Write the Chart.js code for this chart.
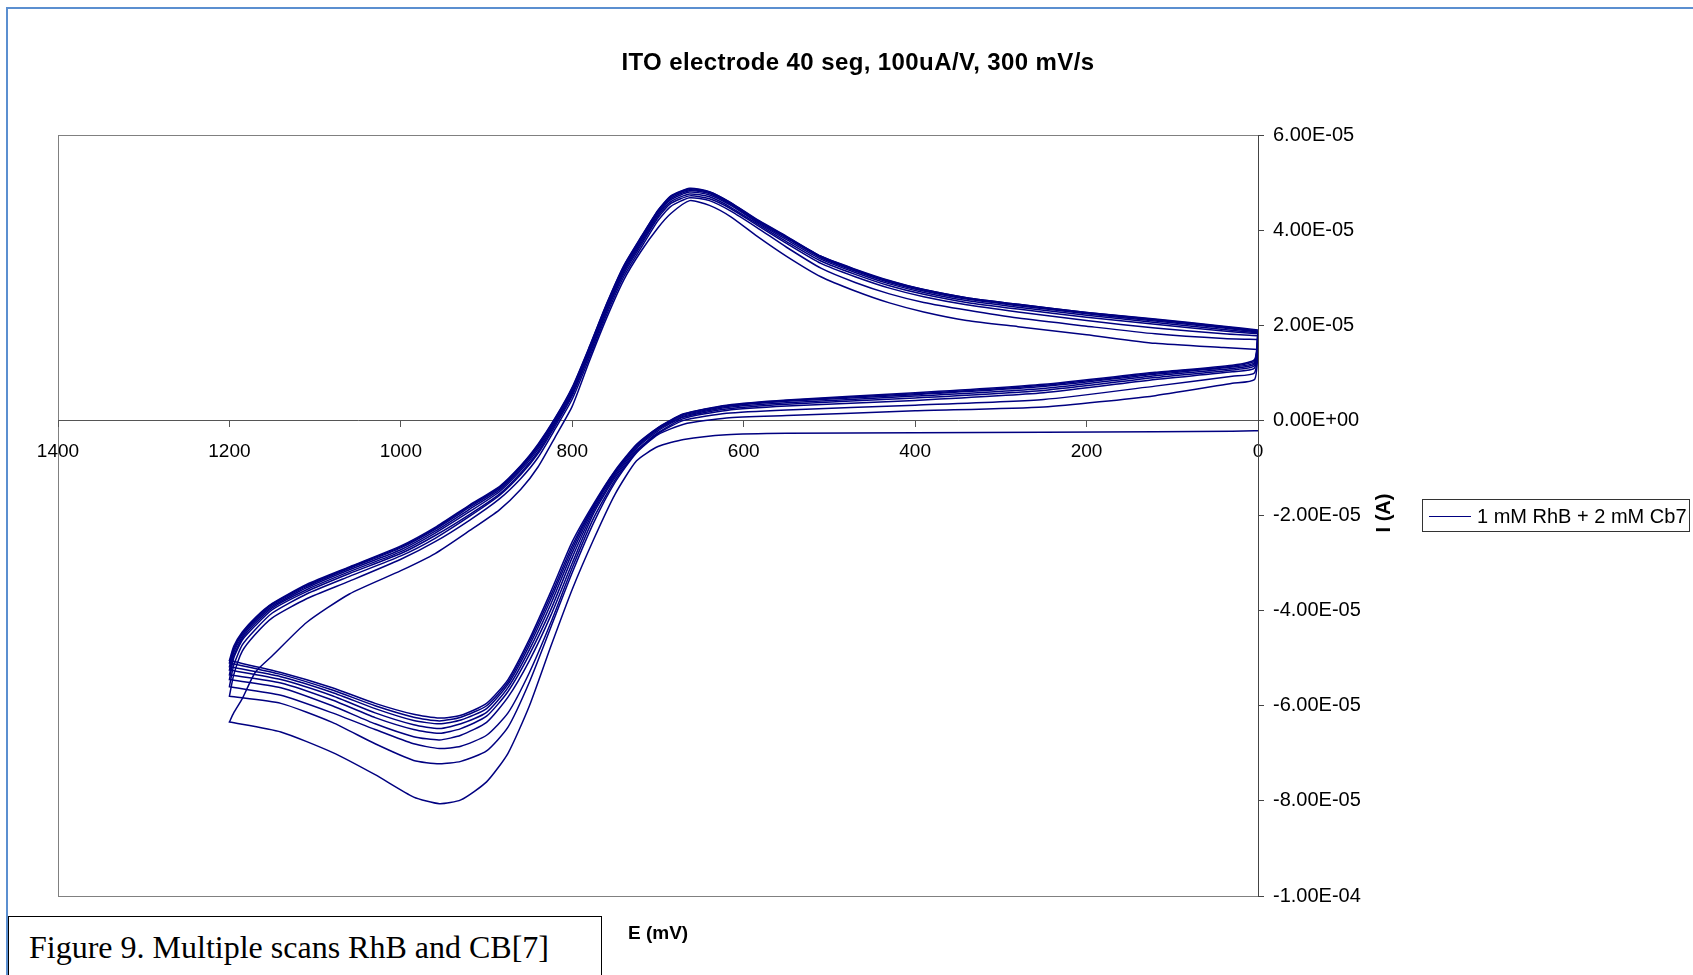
<!DOCTYPE html>
<html>
<head>
<meta charset="utf-8">
<title>ITO electrode 40 seg, 100uA/V, 300 mV/s</title>
<script src="https://cdn.jsdelivr.net/npm/chart.js@4.4.1/dist/chart.umd.min.js"></script>
<style>
  html, body { margin: 0; padding: 0; background: #fff; }
  body { width: 1693px; height: 975px; position: relative; overflow: hidden; font-family: 'Liberation Sans', Arial, sans-serif; color: #000; }
  #frame { position: absolute; left: 6px; top: 7px; width: 1720px; height: 1000px; border-top: 2px solid #5b8fd0; border-left: 2px solid #5b8fd0; }
  #wrap { position: absolute; left: 0; top: 0; width: 1693px; height: 975px; }
  #title { position: absolute; left: 0; width: 1716px; top: 47px; text-align: center; font-weight: bold; font-size: 24px; letter-spacing: 0.4px; line-height: 29px; white-space: nowrap; }
  #ytitle { position: absolute; left: 1383px; top: 513px; transform: translate(-50%, -50%) rotate(-90deg); font-weight: bold; font-size: 20px; white-space: nowrap; }
  #legend { position: absolute; left: 1422px; top: 499px; width: 266px; height: 31px; border: 1px solid #333; background: #fff; }
  #legend .swatch { position: absolute; left: 6px; top: 16px; width: 42px; height: 1.3px; background: #000080; }
  #legend .txt { position: absolute; left: 54px; top: 50%; transform: translateY(-50%); font-size: 20px; white-space: nowrap; }
  #xtitle { position: absolute; left: 628px; top: 921px; font-weight: bold; font-size: 19px; line-height: 24px; white-space: nowrap; }
  #caption { position: absolute; left: 8px; top: 916px; width: 592px; height: 80px; border: 1.5px solid #000; background: #fff; }
  #caption span { position: absolute; left: 20px; top: 10px; line-height: 40px; font-family: 'Liberation Serif', 'Times New Roman', serif; font-size: 32px; white-space: nowrap; }
</style>
</head>
<body>
<div id="frame"></div>
<div id="wrap"><canvas id="cv"></canvas></div>
<div id="title">ITO electrode 40 seg, 100uA/V, 300 mV/s</div>
<div id="ytitle">I (A)</div>
<div id="legend"><span class="swatch"></span><span class="txt">1 mM RhB + 2 mM Cb7</span></div>
<div id="xtitle">E (mV)</div>
<div id="caption"><span>Figure 9. Multiple scans RhB and CB[7]</span></div>

<script>
// potentials (mV) of the forward sweep 0 -> 1200 and the return sweep 1200 -> 0
const potentialsFwd = [0, 4, 30, 120, 250, 400, 550, 620, 670, 700, 725, 750, 775, 800, 825, 850, 875, 900, 930, 955, 985, 1030, 1080, 1140, 1200];
const potentialsRev = [1200, 1195, 1185, 1170, 1150, 1110, 1060, 1000, 960, 920, 885, 860, 840, 820, 800, 780, 760, 740, 720, 700, 685, 663, 640, 615, 585, 550, 510, 470, 430, 390, 340, 280, 200, 120, 40, 0];

// current in units of 1E-05 A (scan 1 = outermost)
const scan1Fwd = [-0.22, -0.22, -0.23, -0.24, -0.25, -0.26, -0.27, -0.30, -0.40, -0.55, -0.85, -1.55, -2.50, -3.55, -4.75, -6.00, -7.00, -7.60, -7.98, -8.06, -7.92, -7.45, -6.98, -6.55, -6.34];
const scan1Rev = [-6.34, -6.15, -5.85, -5.30, -4.95, -4.25, -3.65, -3.16, -2.80, -2.32, -1.88, -1.45, -0.98, -0.35, 0.30, 1.25, 2.15, 2.95, 3.55, 4.05, 4.35, 4.62, 4.52, 4.28, 3.88, 3.45, 3.02, 2.72, 2.47, 2.28, 2.10, 1.97, 1.80, 1.62, 1.53, 1.49];
const scan2Fwd = [1.49, 0.86, 0.78, 0.52, 0.28, 0.20, 0.10, 0.05, -0.08, -0.30, -0.68, -1.30, -2.15, -3.20, -4.35, -5.50, -6.45, -6.95, -7.17, -7.22, -7.15, -6.80, -6.35, -5.95, -5.80];
const scan2Rev = [-5.80, -5.35, -4.85, -4.50, -4.15, -3.75, -3.38, -2.92, -2.55, -2.10, -1.65, -1.22, -0.78, -0.18, 0.45, 1.32, 2.22, 3.02, 3.62, 4.20, 4.50, 4.68, 4.62, 4.40, 4.06, 3.64, 3.20, 2.90, 2.66, 2.48, 2.32, 2.15, 1.98, 1.82, 1.72, 1.70];
const scan3Fwd = [1.70, 1.00, 0.93, 0.72, 0.44, 0.32, 0.22, 0.15, 0.00, -0.28, -0.66, -1.25, -2.05, -3.10, -4.25, -5.30, -6.15, -6.62, -6.85, -6.90, -6.80, -6.50, -6.15, -5.78, -5.60];
const scan3Rev = [-5.60, -5.15, -4.72, -4.40, -4.05, -3.65, -3.28, -2.85, -2.48, -2.02, -1.58, -1.14, -0.70, -0.12, 0.52, 1.38, 2.28, 3.08, 3.68, 4.26, 4.56, 4.72, 4.66, 4.45, 4.11, 3.72, 3.30, 3.02, 2.78, 2.60, 2.43, 2.28, 2.10, 1.94, 1.82, 1.78];
const scan4Fwd = [1.78, 1.10, 1.02, 0.86, 0.58, 0.42, 0.30, 0.21, 0.04, -0.26, -0.63, -1.20, -1.95, -3.00, -4.10, -5.05, -5.82, -6.35, -6.62, -6.72, -6.65, -6.38, -6.00, -5.62, -5.45];
const scan4Rev = [-5.45, -5.00, -4.62, -4.32, -3.98, -3.60, -3.22, -2.80, -2.42, -1.98, -1.55, -1.10, -0.66, -0.08, 0.56, 1.42, 2.32, 3.12, 3.72, 4.30, 4.60, 4.76, 4.70, 4.48, 4.14, 3.76, 3.35, 3.07, 2.83, 2.65, 2.48, 2.34, 2.17, 2.02, 1.88, 1.82];
const scan5Fwd = [1.82, 1.15, 1.06, 0.90, 0.63, 0.47, 0.34, 0.24, 0.07, -0.22, -0.59, -1.16, -1.90, -2.88, -3.98, -4.92, -5.70, -6.22, -6.48, -6.58, -6.50, -6.25, -5.88, -5.52, -5.35];
const scan5Rev = [-5.35, -4.95, -4.58, -4.27, -3.94, -3.56, -3.18, -2.76, -2.37, -1.92, -1.50, -1.05, -0.61, -0.04, 0.60, 1.46, 2.36, 3.16, 3.76, 4.34, 4.64, 4.80, 4.74, 4.52, 4.17, 3.80, 3.39, 3.11, 2.87, 2.69, 2.52, 2.38, 2.21, 2.06, 1.91, 1.84];
const scan6Fwd = [1.84, 1.19, 1.09, 0.94, 0.67, 0.51, 0.37, 0.27, 0.09, -0.19, -0.56, -1.12, -1.85, -2.78, -3.86, -4.82, -5.62, -6.14, -6.38, -6.48, -6.40, -6.15, -5.79, -5.45, -5.25];
const scan6Rev = [-5.25, -4.88, -4.54, -4.23, -3.91, -3.52, -3.14, -2.72, -2.33, -1.87, -1.46, -1.01, -0.57, -0.01, 0.63, 1.49, 2.39, 3.19, 3.79, 4.37, 4.67, 4.83, 4.77, 4.54, 4.19, 3.83, 3.42, 3.14, 2.90, 2.72, 2.55, 2.41, 2.24, 2.09, 1.94, 1.86];
const scan7Fwd = [1.86, 1.22, 1.12, 0.97, 0.71, 0.54, 0.40, 0.29, 0.11, -0.17, -0.53, -1.09, -1.81, -2.70, -3.76, -4.73, -5.55, -6.06, -6.30, -6.38, -6.31, -6.06, -5.72, -5.39, -5.18];
const scan7Rev = [-5.18, -4.83, -4.50, -4.20, -3.88, -3.49, -3.11, -2.68, -2.29, -1.83, -1.43, -0.98, -0.54, 0.02, 0.66, 1.52, 2.42, 3.22, 3.82, 4.40, 4.70, 4.85, 4.79, 4.56, 4.21, 3.85, 3.44, 3.16, 2.92, 2.74, 2.57, 2.43, 2.26, 2.11, 1.96, 1.87];
const scan8Fwd = [1.87, 1.25, 1.14, 0.99, 0.74, 0.56, 0.42, 0.31, 0.13, -0.16, -0.52, -1.07, -1.78, -2.63, -3.68, -4.66, -5.50, -6.00, -6.24, -6.32, -6.24, -6.00, -5.67, -5.34, -5.10];
const scan8Rev = [-5.10, -4.79, -4.47, -4.17, -3.86, -3.47, -3.09, -2.66, -2.27, -1.80, -1.41, -0.96, -0.52, 0.04, 0.68, 1.54, 2.44, 3.24, 3.84, 4.41, 4.71, 4.87, 4.80, 4.57, 4.22, 3.86, 3.45, 3.17, 2.93, 2.75, 2.58, 2.44, 2.27, 2.12, 1.97, 1.88];
const scan9Fwd = [1.88, 1.28, 1.16, 1.01, 0.76, 0.58, 0.43, 0.32, 0.14, -0.15, -0.50, -1.05, -1.75, -2.55, -3.60, -4.60, -5.45, -5.95, -6.20, -6.26, -6.18, -5.95, -5.62, -5.30, -5.05];
const scan9Rev = [-5.05, -4.75, -4.45, -4.15, -3.85, -3.45, -3.08, -2.64, -2.25, -1.78, -1.39, -0.95, -0.50, 0.05, 0.70, 1.55, 2.45, 3.25, 3.85, 4.42, 4.72, 4.88, 4.81, 4.58, 4.23, 3.87, 3.45, 3.18, 2.94, 2.75, 2.58, 2.44, 2.27, 2.13, 1.98, 1.90];

const xTicks = [0, 200, 400, 600, 800, 1000, 1200, 1400];
const seriesLabel = '1 mM RhB + 2 mM Cb7';

const scans = [
  [scan1Fwd, scan1Rev], [scan2Fwd, scan2Rev], [scan3Fwd, scan3Rev],
  [scan4Fwd, scan4Rev], [scan5Fwd, scan5Rev], [scan6Fwd, scan6Rev],
  [scan7Fwd, scan7Rev], [scan8Fwd, scan8Rev], [scan9Fwd, scan9Rev]
];

function toPoints(fwd, rev) {
  const pts = potentialsFwd.map((e, i) => ({ x: e, y: fwd[i] }));
  return pts.concat(potentialsRev.map((e, i) => ({ x: e, y: rev[i] })));
}

// 6 -> "6.00E-05" (values are kept in 1E-05 A)
function sciLabel(v) {
  const s = (v * 1e-5).toExponential(2).toUpperCase();
  const m = s.match(/^(-?[\d.]+)E([+-])(\d+)$/);
  return m ? m[1] + 'E' + m[2] + m[3].padStart(2, '0') : s;
}

// grey box round the plot area
const plotFrame = {
  id: 'plotFrame',
  beforeDraw(chart) {
    const a = chart.chartArea;
    const ctx = chart.ctx;
    ctx.save();
    ctx.strokeStyle = '#808080';
    ctx.lineWidth = 1;
    ctx.strokeRect(Math.round(a.left) + 0.5, Math.round(a.top) + 0.5, Math.round(a.right - a.left), Math.round(a.bottom - a.top));
    ctx.restore();
  }
};

Chart.defaults.font.family = "'Liberation Sans', Arial, sans-serif";
Chart.defaults.color = '#000';

new Chart(document.getElementById('cv'), {
  type: 'scatter',
  data: {
    datasets: scans.map((s, i) => ({
      label: i === 0 ? seriesLabel : seriesLabel + ' (' + (i + 1) + ')',
      data: toPoints(s[0], s[1]),
      showLine: true,
      borderColor: '#000080',
      borderWidth: 1.5,
      pointRadius: 0,
      fill: false,
      tension: 0.2
    }))
  },
  options: {
    responsive: true,
    maintainAspectRatio: false,
    animation: false,
    events: [],
    layout: { padding: { left: 58, top: 135, right: 305, bottom: 79 } },
    plugins: {
      legend: { display: false },
      title: { display: false },
      tooltip: { enabled: false }
    },
    scales: {
      x: {
        type: 'linear',
        reverse: true,
        min: 0,
        max: 1400,
        position: { y: 0 },
        afterBuildTicks: (scale) => { scale.ticks = xTicks.map(v => ({ value: v })); },
        ticks: { font: { size: 19 }, padding: 14, callback: (v) => String(v) },
        grid: { drawOnChartArea: false, drawTicks: true, tickLength: 6, color: '#555' },
        border: { color: '#555', width: 1 }
      },
      y: {
        type: 'linear',
        position: 'right',
        min: -10,
        max: 6,
        afterFit: (scale) => { scale.width = 130; },
        ticks: { stepSize: 2, font: { size: 20 }, padding: 9, callback: (v) => sciLabel(v) },
        grid: { drawOnChartArea: false, drawTicks: true, tickLength: 6, color: '#444' },
        border: { color: '#444', width: 1 }
      }
    }
  },
  plugins: [plotFrame]
});
</script>
</body>
</html>
